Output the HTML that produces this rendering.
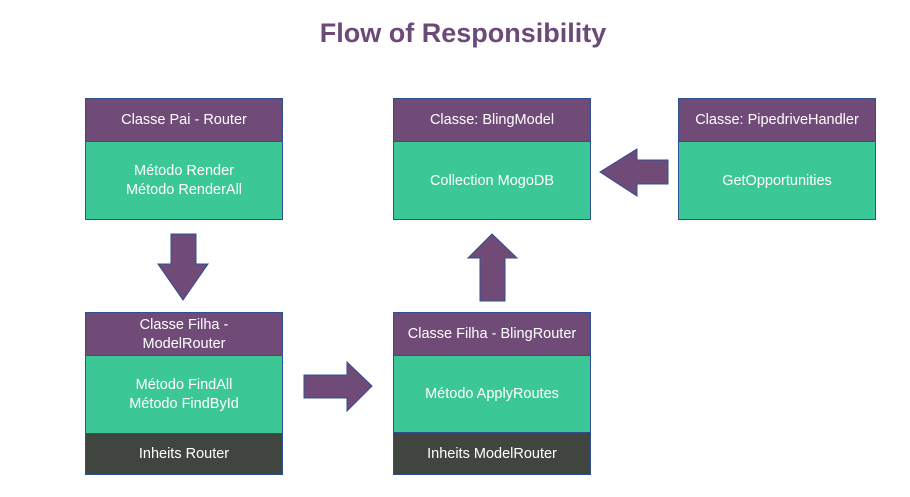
<!DOCTYPE html>
<html><head><meta charset="utf-8"><style>
body{margin:0;width:910px;height:497px;background:#fff;position:relative;overflow:hidden;font-family:"Liberation Sans",sans-serif}
.t{position:absolute;left:0;width:926px;top:18px;text-align:center;font-weight:bold;font-size:27px;color:#6c4a78}
.b{position:absolute;box-sizing:border-box;border:1px solid #2f4f8f;color:#fff;font-size:14.5px;display:flex;align-items:center;justify-content:center;text-align:center;line-height:19px;padding-top:1px}
.p{background:#704b77}.g{background:#3cc896}.d{background:#404540}
svg{position:absolute;left:0;top:0}
</style></head><body>
<div class="t">Flow of Responsibility</div>
<div class="b p" style="left:85px;top:98px;width:198px;height:44px">Classe Pai - Router</div>
<div class="b g" style="left:85px;top:141px;width:198px;height:79px">Método Render<br>Método RenderAll</div>
<div class="b p" style="left:393px;top:98px;width:198px;height:44px">Classe: BlingModel</div>
<div class="b g" style="left:393px;top:141px;width:198px;height:79px">Collection MogoDB</div>
<div class="b p" style="left:678px;top:98px;width:198px;height:44px">Classe: PipedriveHandler</div>
<div class="b g" style="left:678px;top:141px;width:198px;height:79px">GetOpportunities</div>
<div class="b p" style="left:85px;top:312px;width:198px;height:44px">Classe Filha -<br>ModelRouter</div>
<div class="b g" style="left:85px;top:355px;width:198px;height:79px">Método FindAll<br>Método FindById</div>
<div class="b d" style="left:85px;top:433px;width:198px;height:42px">Inheits Router</div>
<div class="b p" style="left:393px;top:312px;width:198px;height:44px">Classe Filha - BlingRouter</div>
<div class="b g" style="left:393px;top:355px;width:198px;height:78px">Método ApplyRoutes</div>
<div class="b d" style="left:393px;top:432px;width:198px;height:43px">Inheits ModelRouter</div>
<svg width="910" height="497"><g fill="#704b77" stroke="#2f4f8f" stroke-width="1">
<polygon points="171,234 196,234 196,264 208,264 183,300 158,264 171,264"/>
<polygon points="304,375 347,375 347,362 372,386 347,411 347,398 304,398"/>
<polygon points="480,301 505,301 505,258 517,258 492,234 468,258 480,258"/>
<polygon points="668,160 637,160 637,149 600,172 637,196 637,184 668,184"/>
</g></svg>
</body></html>
